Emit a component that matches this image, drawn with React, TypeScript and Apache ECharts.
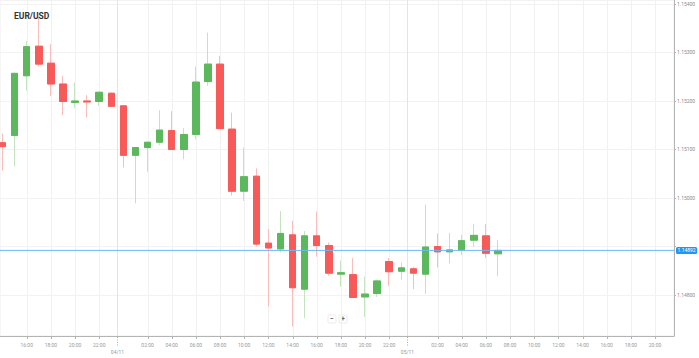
import React, { useEffect, useRef } from "react";
import * as echarts from "echarts";

const TITLE = "EUR/USD";
// hours counted from 03/11 00:00
const hours = [14, 15, 16, 17, 18, 19, 20, 21, 22, 23, 24, 25, 26, 27, 28, 29, 30, 31, 32, 33, 34, 35, 36, 37, 38, 39, 40, 41, 42, 43, 44, 45, 46, 47, 48, 49, 50, 51, 52, 53, 54, 55];
const opens = [1.15114, 1.15129, 1.15252, 1.15313, 1.15278, 1.15235, 1.15197, 1.152, 1.15199, 1.15216, 1.1519, 1.15088, 1.15104, 1.15115, 1.15139, 1.151, 1.15131, 1.1524, 1.15276, 1.15142, 1.15014, 1.15045, 1.14907, 1.14895, 1.14924, 1.14812, 1.14922, 1.14902, 1.14843, 1.14842, 1.14796, 1.14803, 1.14869, 1.14849, 1.14854, 1.14843, 1.149, 1.14889, 1.14893, 1.14913, 1.14922, 1.14885];
const closes = [1.15106, 1.15257, 1.15312, 1.15276, 1.15235, 1.15199, 1.152, 1.15198, 1.15218, 1.15189, 1.15088, 1.15104, 1.15115, 1.1514, 1.151, 1.15131, 1.15239, 1.15276, 1.15143, 1.15014, 1.15044, 1.14905, 1.14897, 1.14927, 1.14815, 1.14922, 1.14902, 1.14845, 1.14846, 1.14795, 1.14802, 1.14829, 1.14848, 1.14856, 1.14845, 1.14899, 1.14889, 1.14893, 1.14912, 1.14923, 1.14886, 1.14892];
const lows = [1.15056, 1.15065, 1.15221, 1.15271, 1.1521, 1.15171, 1.15185, 1.15166, 1.1519, 1.15188, 1.15063, 1.14989, 1.15054, 1.15109, 1.15099, 1.1508, 1.15121, 1.15231, 1.15142, 1.15005, 1.14994, 1.149, 1.14776, 1.14888, 1.14735, 1.14752, 1.14879, 1.1484, 1.14817, 1.14795, 1.14755, 1.14796, 1.14819, 1.14832, 1.14812, 1.14802, 1.14857, 1.14865, 1.14882, 1.149, 1.14876, 1.14839];
const highs = [1.15133, 1.15258, 1.15324, 1.15373, 1.15317, 1.15252, 1.15238, 1.15212, 1.15219, 1.15217, 1.1519, 1.15104, 1.15116, 1.15181, 1.15179, 1.15144, 1.15271, 1.15341, 1.15293, 1.15176, 1.15104, 1.15061, 1.14936, 1.14973, 1.14953, 1.14932, 1.14972, 1.14908, 1.14871, 1.14876, 1.14838, 1.14832, 1.14876, 1.14867, 1.14858, 1.14986, 1.14927, 1.14928, 1.14924, 1.14946, 1.14946, 1.14913];
const CURRENT_PRICE = 1.14892;
const DAY_SEPARATORS = [23.5, 47.5];
const DAY_LABELS = ["04/11", "05/11"];
const X_MIN = 13.79;
const X_MAX = 69.57;
const Y_MIN = 1.147155;
const Y_MAX = 1.154082;

const UP = "#5cb85c";
const DOWN = "#f85a5a";
const UP_WICK = "#c4e3bf";
const DOWN_WICK = "#fbbcbc";
const FONT = "Roboto, 'Noto Sans', sans-serif";

const pad = (n: number) => (n < 10 ? "0" + n : "" + n);

export default function App() {
  const ref = useRef<HTMLDivElement>(null);
  useEffect(() => {
    document.body.style.margin = "0";
    if (!ref.current) return;
    const chart = echarts.init(ref.current, undefined, { renderer: "svg" });
    const wickData = hours.map((h, i) => [h, opens[i], closes[i], lows[i], highs[i]]);
    const bodyData = hours.map((h, i) => [
      h,
      opens[i],
      closes[i],
      Math.min(opens[i], closes[i]),
      Math.max(opens[i], closes[i]),
    ]);
    chart.setOption({
      animation: false,
      title: {
        text: TITLE,
        left: 9,
        top: 6,
        textStyle: { fontSize: 8.5, fontWeight: "bold", color: "#333", fontFamily: FONT },
      },
      grid: {
        left: 0,
        right: 25,
        top: 0,
        bottom: 22,
        show: true,
        borderColor: "#eeeeee",
        borderWidth: 1,
        outerBoundsMode: "none",
      },
      xAxis: {
        type: "value",
        min: X_MIN,
        max: X_MAX,
        splitNumber: 28,
        axisLine: { show: true, lineStyle: { color: "#b4b4b4" } },
        axisTick: { show: false },
        splitLine: { show: false },
        axisLabel: {
          fontSize: 5,
          color: "#999",
          fontFamily: FONT,
          margin: 6,
          showMinLabel: false,
          showMaxLabel: false,
          formatter: (v: number) => {
            if (Math.abs(v - Math.round(v)) > 1e-6) return "";
            if (v < X_MIN + 1) return "";
            const hh = ((Math.round(v) % 24) + 24) % 24;
            if (hh === 0) return "";
            return pad(hh) + ":00";
          },
        },
      },
      yAxis: {
        type: "value",
        position: "right",
        min: Y_MIN,
        max: Y_MAX,
        splitNumber: 7,
        scale: true,
        axisLine: { show: true, lineStyle: { color: "#b4b4b4" } },
        axisTick: { show: true, length: 2, lineStyle: { color: "#b4b4b4" } },
        splitLine: { show: true, lineStyle: { color: "#f2f2f2" } },
        axisLabel: {
          fontSize: 5,
          color: "#8c8c8c",
          fontFamily: FONT,
          margin: 3,
          showMinLabel: false,
          showMaxLabel: false,
          formatter: (v: number) => (Math.abs(v - CURRENT_PRICE) < 0.0002 ? "" : v.toFixed(5)),
        },
      },
      series: [
        {
          type: "candlestick",
          data: wickData,
          encode: { x: 0, y: [1, 2, 3, 4] },
          barWidth: 7,
          silent: true,
          itemStyle: {
            color: UP_WICK,
            color0: DOWN_WICK,
            borderColor: UP_WICK,
            borderColor0: DOWN_WICK,
            borderWidth: 1,
          },
        },
        {
          type: "candlestick",
          data: bodyData,
          encode: { x: 0, y: [1, 2, 3, 4] },
          barWidth: 7,
          silent: true,
          itemStyle: {
            color: UP,
            color0: DOWN,
            borderColor: UP,
            borderColor0: DOWN,
            borderWidth: 1,
          },
        },
        {
          type: "line",
          z: 5,
          silent: true,
          symbol: "none",
          data: [
            [X_MIN, CURRENT_PRICE],
            [X_MAX, CURRENT_PRICE],
          ],
          lineStyle: { color: "#6cb8f6", width: 1 },
          endLabel: {
            show: true,
            distance: 2,
            formatter: () => CURRENT_PRICE.toFixed(5),
            backgroundColor: "#2196f3",
            color: "#fff",
            fontSize: 5,
            fontFamily: FONT,
            padding: [1, 1.5, 1, 1.5],
            borderRadius: 1.5,
          },
        },
      ],
    });

    // decorations derived from the axis scales
    const graphics: any[] = [];
    const top = chart.convertToPixel({ gridIndex: 0 }, [X_MIN, Y_MAX]) as number[];
    const bottom = chart.convertToPixel({ gridIndex: 0 }, [X_MIN, Y_MIN]) as number[];
    const yTop = top[1];
    const yBot = bottom[1];
    for (let h = Math.ceil((X_MIN + 1) / 2) * 2; h <= X_MAX; h += 2) {
      if (h % 24 === 0) continue;
      const x = Math.round((chart.convertToPixel({ gridIndex: 0 }, [h, Y_MIN]) as number[])[0]) + 0.5;
      graphics.push({
        type: "line",
        z: 1,
        silent: true,
        shape: { x1: x, y1: yTop, x2: x, y2: yBot },
        style: { stroke: "#f1f1f1", lineWidth: 1 },
      });
      graphics.push({
        type: "line",
        z: 1,
        silent: true,
        shape: { x1: x, y1: yBot, x2: x, y2: yBot + 3 },
        style: { stroke: "#b4b4b4", lineWidth: 1 },
      });
    }
    DAY_SEPARATORS.forEach((h, i) => {
      const x = Math.round((chart.convertToPixel({ gridIndex: 0 }, [h, Y_MIN]) as number[])[0]) + 0.5;
      graphics.push({
        type: "line",
        z: 1,
        silent: true,
        shape: { x1: x, y1: yTop, x2: x, y2: yBot },
        style: { stroke: "#e4e4e4", lineWidth: 1 },
      });
      graphics.push({
        type: "line",
        z: 1,
        silent: true,
        shape: { x1: x, y1: yBot + 1, x2: x, y2: yBot + 11 },
        style: { stroke: "#aaaaaa", lineWidth: 1, lineDash: [1, 1.5] },
      });
      graphics.push({
        type: "text",
        z: 1,
        silent: true,
        x: x,
        y: yBot + 16,
        style: {
          text: DAY_LABELS[i],
          fontSize: 5,
          fill: "#999",
          fontFamily: FONT,
          align: "center",
          verticalAlign: "middle",
        },
      });
    });
    // zoom buttons
    graphics.push({
      type: "group",
      x: 328,
      y: 315,
      silent: true,
      children: [
        { type: "rect", shape: { x: 0, y: 0, width: 8, height: 8, r: 1 }, style: { fill: "#fff", stroke: "#ececec" } },
        { type: "rect", shape: { x: 11, y: 0, width: 8, height: 8, r: 1 }, style: { fill: "#fff", stroke: "#ececec" } },
        { type: "text", x: 4, y: 4, style: { text: "−", fontSize: 7, fontWeight: "bold", fill: "#666", align: "center", verticalAlign: "middle", fontFamily: FONT } },
        { type: "text", x: 15, y: 4, style: { text: "+", fontSize: 7, fontWeight: "bold", fill: "#666", align: "center", verticalAlign: "middle", fontFamily: FONT } },
      ],
    });
    chart.setOption({ graphic: graphics });

    return () => chart.dispose();
  }, []);
  return <div ref={ref} style={{ width: 699, height: 358 }} />;
}
